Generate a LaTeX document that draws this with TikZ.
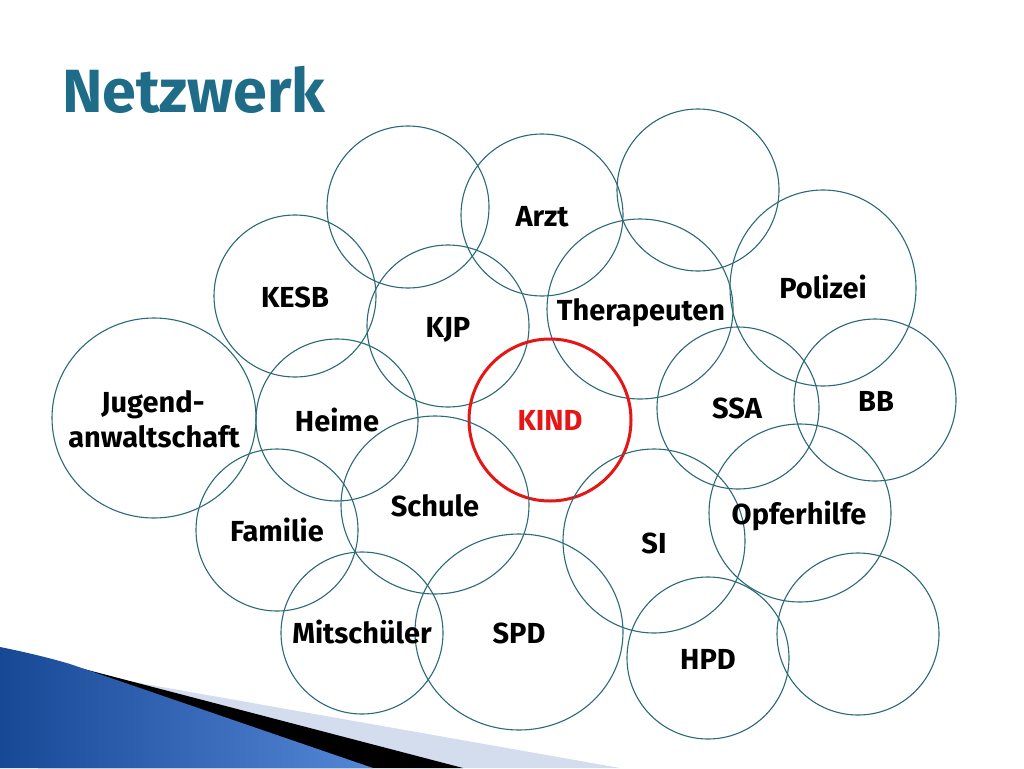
\documentclass[tikz,border=0pt]{standalone}
\usepackage{fontspec}
\setmainfont{Fira Sans}
\usetikzlibrary{shapes.geometric}
\definecolor{ringcol}{RGB}{43,106,120}
\definecolor{kindred}{RGB}{228,22,22}
\definecolor{titleteal}{RGB}{30,108,135}
\definecolor{bandlight}{RGB}{212,221,238}
\definecolor{bluedark}{RGB}{22,72,150}
\definecolor{bluelight}{RGB}{85,135,215}
\begin{document}
\begin{tikzpicture}[x=1pt,y=-1pt,
  ring/.style={ellipse, draw=ringcol, line width=1.1pt, inner sep=0pt, outer sep=0pt},
  kindring/.style={ellipse, draw=kindred, line width=3pt, inner sep=0pt, outer sep=0pt},
  lbl/.style={font=\fontsize{29}{31}\selectfont\bfseries, text=black, anchor=base, inner sep=0pt},
  titlestyle/.style={font=\fontsize{61}{62}\selectfont\bfseries, anchor=base west, inner sep=0pt}
]
\useasboundingbox (0,0) rectangle (1024,768);
\fill[white] (0,0) rectangle (1024,768);

% bottom-left decoration
\fill[bandlight] (60,669) -- (620,768) -- (60,768) -- cycle;
\fill[black] (38,657) -- (463,768) -- (38,768) -- cycle;
\shade[left color=bluedark, right color=bluelight]
  (0,647) .. controls (25,652) and (50,658) .. (70,664) -- (373,768) -- (0,768) -- cycle;

% title
\node[titlestyle, text=titleteal] (title) at (62,112) {Netzwerk};

% circles
\node[ring, minimum width=162pt, minimum height=162pt] (c1) at (408,207) {};
\node[ring, minimum width=162pt, minimum height=162pt] (c2) at (542,215) {};
\node[ring, minimum width=162pt, minimum height=162pt] (c3) at (698,190) {};
\node[ring, minimum width=186pt, minimum height=196pt] (c4) at (823,288) {};
\node[ring, minimum width=162pt, minimum height=162pt] (c5) at (295,296) {};
\node[ring, minimum width=162pt, minimum height=162pt] (c6) at (448,326) {};
\node[ring, minimum width=186pt, minimum height=180pt] (c7) at (640,309) {};
\node[ring, minimum width=204pt, minimum height=200pt] (c8) at (154,418) {};
\node[ring, minimum width=162pt, minimum height=162pt] (c9) at (337,420) {};
\node[kindring, minimum width=162pt, minimum height=162pt] (c10) at (550,420) {};
\node[ring, minimum width=162pt, minimum height=162pt] (c11) at (738,408) {};
\node[ring, minimum width=162pt, minimum height=162pt] (c12) at (875,400) {};
\node[ring, minimum width=188pt, minimum height=178pt] (c13) at (435,505) {};
\node[ring, minimum width=162pt, minimum height=162pt] (c14) at (277,530) {};
\node[ring, minimum width=182pt, minimum height=178pt] (c15) at (800,513) {};
\node[ring, minimum width=182pt, minimum height=184pt] (c16) at (654,541) {};
\node[ring, minimum width=162pt, minimum height=162pt] (c17) at (362,633) {};
\node[ring, minimum width=208pt, minimum height=196pt] (c18) at (519,632) {};
\node[ring, minimum width=162pt, minimum height=162pt] (c19) at (708,658) {};
\node[ring, minimum width=162pt, minimum height=162pt] (c20) at (858,634) {};

% labels
\node[lbl] (larzt) at (542,226) {Arzt};
\node[lbl] (lkesb) at (295,307) {KESB};
\node[lbl] (lkjp) at (448,337) {KJP};
\node[lbl] (lther) at (641,320) {Therapeuten};
\node[lbl] (lpol) at (823,298) {Polizei};
\node[lbl] (ljug1) at (153,412) {Jugend-};
\node[lbl] (ljug2) at (154,447) {anwaltschaft};
\node[lbl] (lheime) at (337,431) {Heime};
\node[lbl, text=kindred] (lkind) at (550,430) {KIND};
\node[lbl] (lssa) at (737,418) {SSA};
\node[lbl] (lbb) at (876,411) {BB};
\node[lbl] (lschule) at (435,516) {Schule};
\node[lbl] (lfam) at (277,541) {Familie};
\node[lbl] (lopfer) at (799,524) {Opferhilfe};
\node[lbl] (lsi) at (654,553) {SI};
\node[lbl] (lmit) at (362,643) {Mitschüler};
\node[lbl] (lspd) at (519,643) {SPD};
\node[lbl] (lhpd) at (708,669) {HPD};
\end{tikzpicture}
\end{document}
